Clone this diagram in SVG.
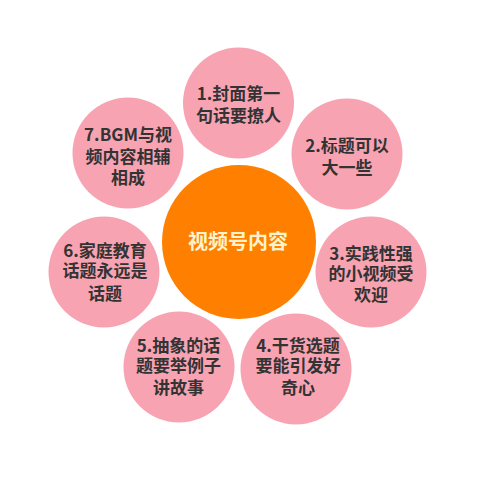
<svg xmlns="http://www.w3.org/2000/svg" width="490" height="484" viewBox="0 0 490 484">
<style>
.p{fill:#F7A3B2}
.c{fill:#FF8000}
.t{font-family:"Noto Sans CJK SC","Noto Sans",sans-serif;font-size:17px;font-weight:bold;fill:#333333;text-anchor:middle}
.ct{font-family:"Noto Sans CJK SC","Noto Sans",sans-serif;font-size:20px;font-weight:bold;fill:#FFF3CC;text-anchor:middle}
</style>
<rect width="490" height="484" fill="#FFFFFF"/>
<g id="connectors"></g>
<g id="n1"><circle class="p" cx="238.5" cy="103" r="55.5"/><text class="t" x="238.5" y="99.5">1.封面第一</text><text class="t" x="238.5" y="122">句话要撩人</text></g>
<g id="n2"><circle class="p" cx="347" cy="154" r="55.5"/><text class="t" x="347" y="151.5">2.标题可以</text><text class="t" x="347" y="173.5">大一些</text></g>
<g id="n3"><circle class="p" cx="371" cy="272" r="55.5"/><text class="t" x="371" y="259.5">3.实践性强</text><text class="t" x="371" y="280">的小视频受</text><text class="t" x="371" y="300.5">欢迎</text></g>
<g id="n4"><circle class="p" cx="296" cy="369" r="55.5"/><text class="t" x="298" y="351.5">4.干货选题</text><text class="t" x="298" y="372">要能引发好</text><text class="t" x="298" y="393.5">奇心</text></g>
<g id="n5"><circle class="p" cx="179" cy="367" r="55.5"/><text class="t" x="178.5" y="351.5">5.抽象的话</text><text class="t" x="178.5" y="372">题要举例子</text><text class="t" x="178.5" y="393.5">讲故事</text></g>
<g id="n6"><circle class="p" cx="104" cy="272" r="55.5"/><text class="t" x="105" y="256.5">6.家庭教育</text><text class="t" x="105" y="277">话题永远是</text><text class="t" x="105" y="299.5">话题</text></g>
<g id="n7"><circle class="p" cx="128" cy="153" r="55.5"/><text class="t" x="128" y="140.5">7.BGM与视</text><text class="t" x="128" y="163">频内容相辅</text><text class="t" x="128" y="183.5">相成</text></g>
<g id="center"><circle class="c" cx="239" cy="242" r="77"/><text class="ct" x="238" y="249">视频号内容</text></g>
</svg>
